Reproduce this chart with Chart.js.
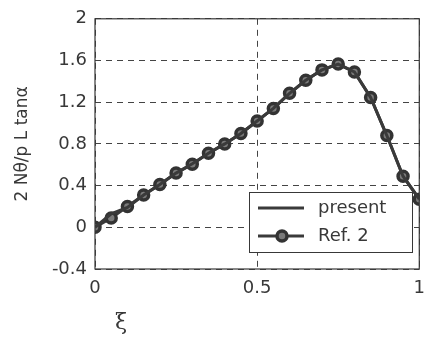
<!DOCTYPE html>
<html>
<head>
<meta charset="utf-8">
<script src="https://cdn.jsdelivr.net/npm/chart.js@4/dist/chart.umd.min.js"></script>
<style>
  html, body { margin: 0; padding: 0; background: #fff; overflow: hidden; }
  canvas { display: block; }
</style>
</head>
<body>
<canvas id="grafico" width="434" height="343"></canvas>
<script>
// valores
const xi = [0, 0.05, 0.1, 0.15, 0.2, 0.25, 0.3, 0.35, 0.4, 0.45, 0.5,
            0.55, 0.6, 0.65, 0.7, 0.75, 0.8, 0.85, 0.9, 0.95, 1.0];
const presente = [0, 0.13, 0.19, 0.31, 0.41, 0.52, 0.61, 0.71, 0.80, 0.90, 1.02,
                  1.14, 1.285, 1.41, 1.51, 1.566, 1.49, 1.245, 0.88, 0.49, 0.27];
const ref2 = [0, 0.09, 0.20, 0.31, 0.41, 0.52, 0.605, 0.71, 0.80, 0.90, 1.02,
              1.14, 1.285, 1.41, 1.51, 1.566, 1.49, 1.245, 0.88, 0.49, 0.27];
const etiquetas = ['present', 'Ref. 2'];
const yTicks = [-0.4, 0, 0.4, 0.8, 1.2, 1.6, 2];
const xTicks = [0, 0.5, 1];
const tituloY = '2 N\u03b8/p L tan\u03b1';
const tituloX = '\u03be';

const gris = '#383838';
const fuente = 'DejaVu Sans';

const puntos = arr => arr.map((v, i) => ({ x: xi[i], y: v }));

// marco, leyenda y etiqueta del eje x
const extras = {
    id: 'extras',
    afterDraw(chart) {
        const ctx = chart.ctx;
        const a = chart.chartArea;
        ctx.save();
        ctx.strokeStyle = gris;
        ctx.lineWidth = 1.2;
        ctx.setLineDash([]);
        ctx.strokeRect(a.left, a.top, a.right - a.left, a.bottom - a.top);

        // leyenda
        const bx = 249, by = 192, bw = 163, bh = 60;
        ctx.fillStyle = '#fff';
        ctx.fillRect(bx, by, bw, bh);
        ctx.lineWidth = 1;
        ctx.strokeRect(bx + 0.5, by + 0.5, bw, bh);
        chart.data.datasets.forEach((ds, i) => {
            const y = by + 16 + i * 28;
            ctx.strokeStyle = ds.borderColor;
            ctx.lineWidth = ds.borderWidth;
            ctx.beginPath();
            ctx.moveTo(bx + 9, y);
            ctx.lineTo(bx + 55, y);
            ctx.stroke();
            if (ds.pointRadius > 0) {
                ctx.beginPath();
                ctx.arc(bx + 33, y, ds.pointRadius, 0, Math.PI * 2);
                ctx.fillStyle = ds.pointBackgroundColor;
                ctx.fill();
                ctx.lineWidth = ds.pointBorderWidth;
                ctx.strokeStyle = ds.pointBorderColor;
                ctx.stroke();
            }
            ctx.fillStyle = gris;
            ctx.font = '18px ' + fuente;
            ctx.textBaseline = 'middle';
            ctx.textAlign = 'left';
            ctx.fillText(ds.label, bx + 69, y);
        });

        // xi
        ctx.fillStyle = gris;
        ctx.font = '22px "DejaVu Serif"';
        ctx.textAlign = 'center';
        ctx.textBaseline = 'middle';
        ctx.fillText(tituloX, 121, 323);
        ctx.restore();
    }
};

new Chart(document.getElementById('grafico'), {
    type: 'line',
    data: {
        datasets: [
            {
                label: etiquetas[0],
                data: puntos(presente),
                borderColor: '#3a3a3a',
                borderWidth: 3,
                pointRadius: 0,
                tension: 0
            },
            {
                label: etiquetas[1],
                data: puntos(ref2),
                borderColor: '#3a3a3a',
                borderWidth: 3,
                pointRadius: 5,
                pointBackgroundColor: '#7a7a7a',
                pointBorderColor: '#333',
                pointBorderWidth: 3.5,
                tension: 0
            }
        ]
    },
    options: {
        responsive: false,
        animation: false,
        layout: { padding: { top: 15, right: 12, left: 0, bottom: 0 } },
        plugins: {
            legend: { display: false },
            tooltip: { enabled: false }
        },
        scales: {
            x: {
                type: 'linear',
                min: 0,
                max: 1,
                afterBuildTicks: s => { s.ticks = xTicks.map(v => ({ value: v })); },
                afterFit: s => { s.height = 74; },
                ticks: {
                    color: gris,
                    font: { family: fuente, size: 18 },
                    padding: 9,
                    maxRotation: 0,
                    callback: v => String(v)
                },
                grid: {
                    color: '#444',
                    lineWidth: 1,
                    drawTicks: false
                },
                border: { display: false, dash: [6, 5] }
            },
            y: {
                min: -0.4,
                max: 2,
                afterBuildTicks: s => { s.ticks = yTicks.map(v => ({ value: v })); },
                afterFit: s => { s.width = 95; },
                ticks: {
                    color: gris,
                    font: { family: fuente, size: 18 },
                    padding: 8,
                    callback: v => String(v)
                },
                grid: {
                    color: '#444',
                    lineWidth: 1,
                    drawTicks: false
                },
                border: { display: false, dash: [6, 5] },
                title: {
                    display: true,
                    text: tituloY,
                    color: gris,
                    font: { family: fuente, size: 17 },
                    padding: { top: 12, bottom: 0 }
                }
            }
        }
    },
    plugins: [extras]
});
</script>
</body>
</html>
